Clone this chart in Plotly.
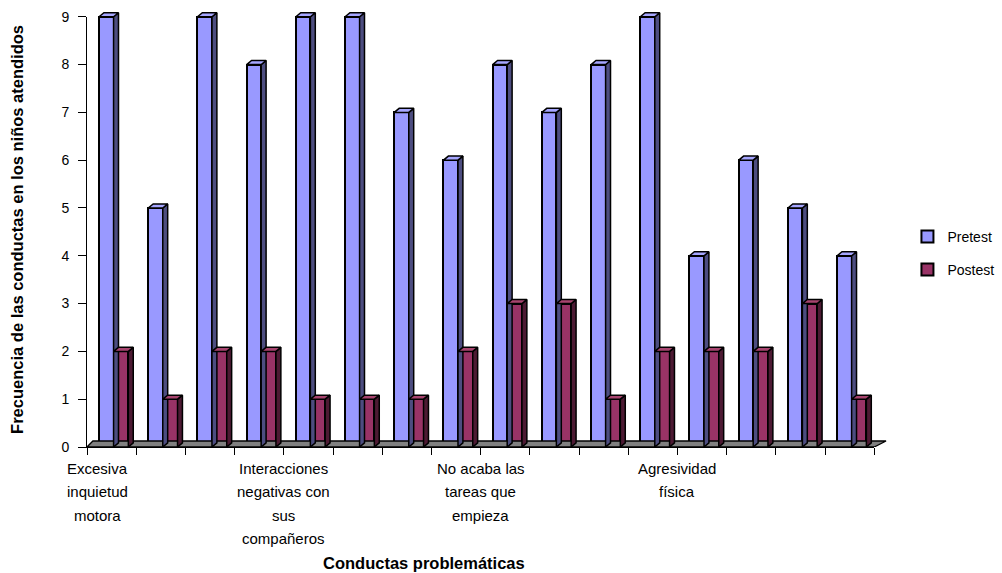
import plotly.graph_objects as go

# ---- data ----
pretest = [9, 5, 9, 8, 9, 9, 7, 6, 8, 7, 8, 9, 4, 6, 5, 4]
postest = [2, 1, 2, 2, 1, 1, 1, 2, 3, 3, 1, 2, 2, 2, 3, 1]
series_names = ["Pretest", "Postest"]
cat_labels = ["Excesiva<br>inquietud<br>motora",
              "Interacciones<br>negativas con<br>sus<br>compañeros",
              "No acaba las<br>tareas que<br>empieza",
              "Agresividad<br>física"]
cat_label_pos = [0.22, 4, 8, 12]
y_ticks = list(range(0, 10))

FONT = "Liberation Sans, Arial, sans-serif"
n = len(pretest)
Y_MAX = 9
X_PAD = 0.3      # extra room on the right for the 3D floor
Y_PAD = 0.1      # extra room above for the 3D bar tops

# geometry (in category units)
PRE_L, PRE_W = 0.245, 0.295
POST_L, POST_W = 0.54, 0.30
DX, DY = 0.10, 0.085


def faces(vals, left, width):
    top_x, top_y, side_x, side_y = [], [], [], []
    for i, v in enumerate(vals):
        xl = i + left
        xr = xl + width
        top_x += [xl, xl + DX, xr + DX, xr, xl, None]
        top_y += [v, v + DY, v + DY, v, v, None]
        side_x += [xr, xr + DX, xr + DX, xr, xr, None]
        side_y += [0, DY, v + DY, v, 0, None]
    return top_x, top_y, side_x, side_y


fig = go.Figure()

# helper subplot that only carries the axis lines (ending exactly at 16 and 9)
fig.add_trace(go.Scatter(x=[None], y=[None], xaxis="x2", yaxis="y2",
                         showlegend=False, hoverinfo="skip"))

# floor
fig.add_trace(go.Scatter(
    x=[0, n, n + 0.24, 0.12, 0], y=[0, 0, 0.125, 0.125, 0],
    fill="toself", fillcolor="#808080", mode="lines",
    line=dict(color="black", width=1.3), showlegend=False,
    hoverinfo="skip"))

styles = [
    (pretest, PRE_L, PRE_W, "#9999FF", "#A6A6FF", "#4D4D80", "legend"),
    (postest, POST_L, POST_W, "#993366", "#A8446F", "#4D1A33", "legend2"),
]
for (vals, left, width, front, topc, sidec, lg), name in zip(styles, series_names):
    tx, ty, sx, sy = faces(vals, left, width)
    fig.add_trace(go.Scatter(x=sx, y=sy, fill="toself", fillcolor=sidec,
                             mode="lines", line=dict(color="black", width=1.5),
                             showlegend=False, hoverinfo="skip"))
    fig.add_trace(go.Scatter(x=tx, y=ty, fill="toself", fillcolor=topc,
                             mode="lines", line=dict(color="black", width=1.5),
                             showlegend=False, hoverinfo="skip"))
    fig.add_trace(go.Bar(
        x=[i + left + width / 2 for i in range(n)], y=vals, width=width,
        name=name, legend=lg,
        marker=dict(color=front, line=dict(color="black", width=2))))

x_full = n + X_PAD
y_full = Y_MAX + Y_PAD

fig.update_layout(
    width=1002, height=573,
    margin=dict(l=87, r=113, t=12, b=126, autoexpand=False),
    plot_bgcolor="rgba(0,0,0,0)", paper_bgcolor="white",
    barmode="overlay", bargap=0,
    font=dict(family=FONT, size=14, color="black"),
    xaxis=dict(range=[0, x_full], tickvals=list(range(n + 1)), showticklabels=False,
               ticks="outside", ticklen=7, tickcolor="black", tickwidth=1,
               showline=False, showgrid=False, zeroline=False, domain=[0, 1]),
    yaxis=dict(range=[0, y_full], tickvals=y_ticks, ticks="outside", ticklen=8,
               tickcolor="black", tickwidth=1, showline=False, showgrid=False,
               zeroline=False, tickfont=dict(size=14), ticklabelstandoff=6,
               domain=[0, 1]),
    xaxis2=dict(range=[0, n], domain=[0, n / x_full], anchor="y2",
                showline=True, linecolor="black", linewidth=1,
                showticklabels=False, ticks="", showgrid=False, zeroline=False),
    yaxis2=dict(range=[0, Y_MAX], domain=[0, Y_MAX / y_full], anchor="x2",
                showline=True, linecolor="black", linewidth=1,
                showticklabels=False, ticks="", showgrid=False, zeroline=False),
    legend=dict(x=1.023, y=0.483, xanchor="left", yanchor="middle",
                font=dict(size=14), bgcolor="rgba(0,0,0,0)"),
    legend2=dict(x=1.023, y=0.407, xanchor="left", yanchor="middle",
                 font=dict(size=14), bgcolor="rgba(0,0,0,0)"),
)

# category labels
LINE = 23.5
for lab, pos in zip(cat_labels, cat_label_pos):
    for k, line in enumerate(lab.split("<br>")):
        fig.add_annotation(x=pos, y=0, xref="x", yref="y", text=line,
                           showarrow=False, xanchor="center", yanchor="middle",
                           yshift=-21 - k * LINE, font=dict(size=15))

# axis titles
fig.add_annotation(x=(424 - 87) / 801.8, y=0, xref="paper", yref="paper",
                   text="<b>Conductas problemáticas</b>", showarrow=False,
                   xanchor="center", yanchor="middle", yshift=-116,
                   font=dict(size=16.5))
fig.add_annotation(x=0, y=(447 - 230) / 434.8, xref="paper", yref="paper",
                   text="<b>Frecuencia de las conductas en los niños atendidos</b>",
                   showarrow=False, textangle=-90, xanchor="center",
                   yanchor="middle", xshift=-70, font=dict(size=16.5))

fig.write_html("out.html")
